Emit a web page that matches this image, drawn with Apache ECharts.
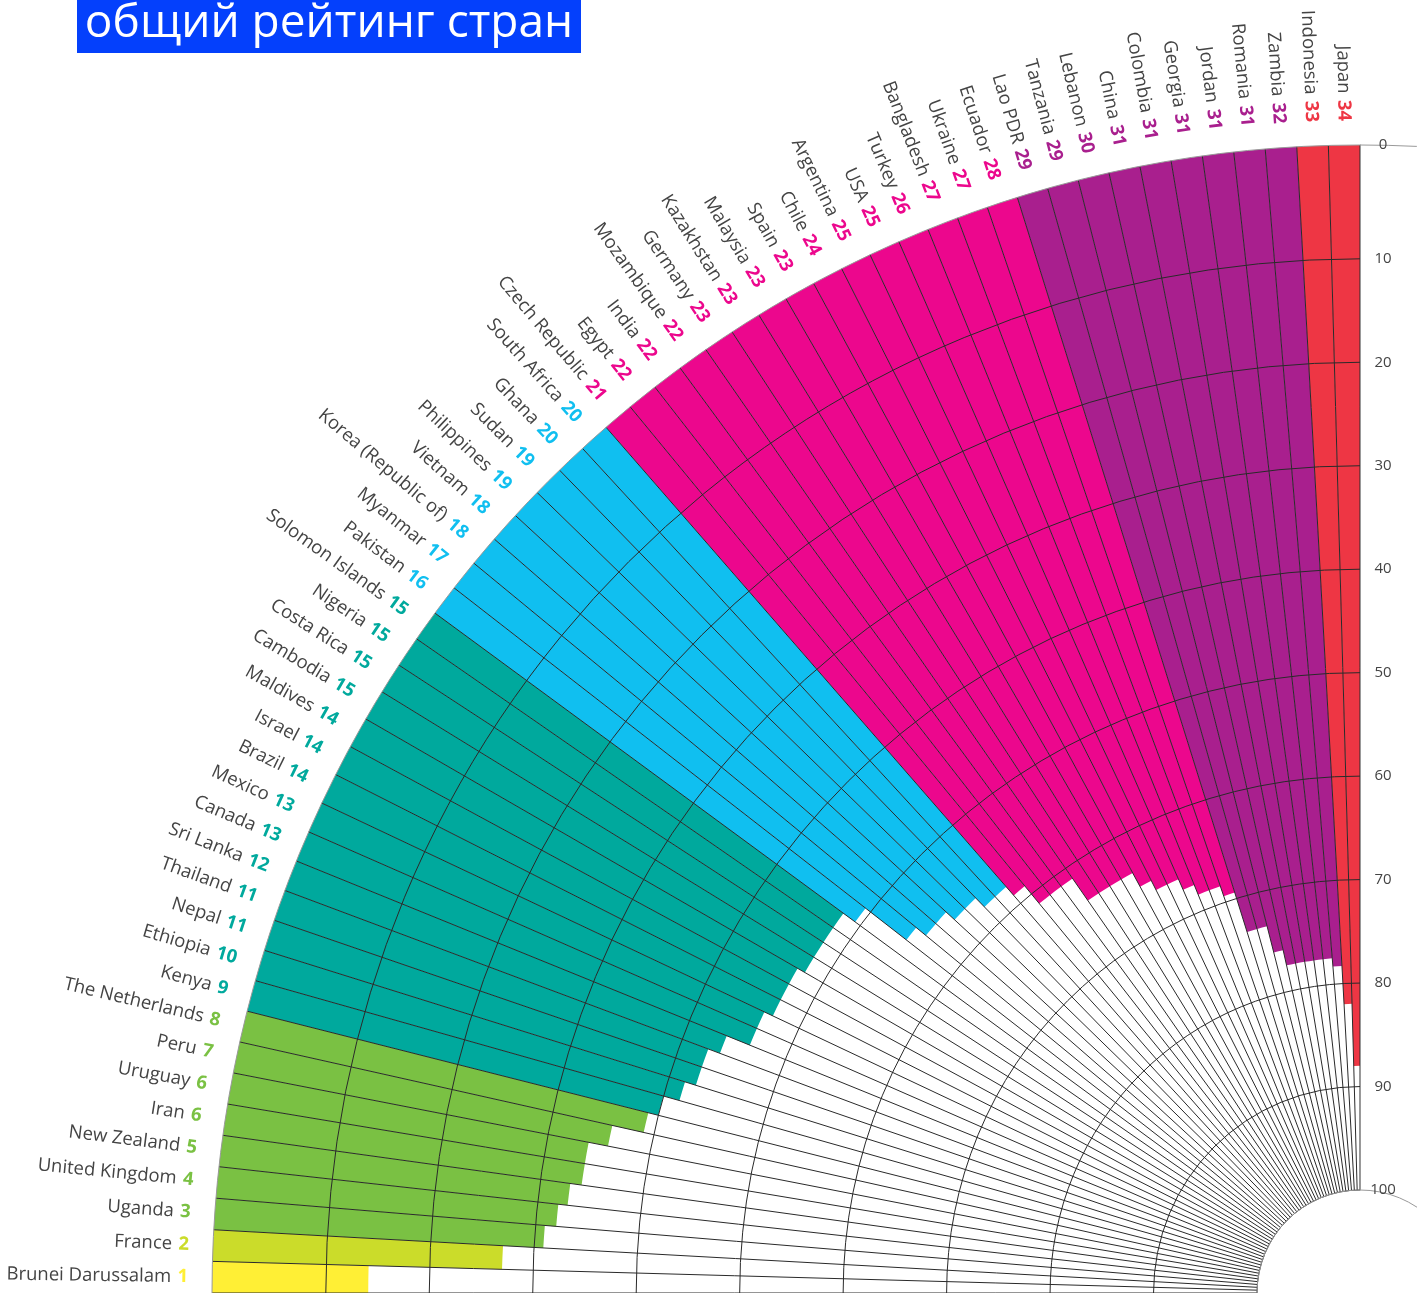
<!DOCTYPE html>
<html>
<head>
<meta charset="utf-8">
<script src="https://cdn.jsdelivr.net/npm/echarts@6/dist/echarts.min.js"></script>
<style>
html, body { margin: 0; padding: 0; background: #fff; }
#main { width: 1417px; height: 1293px; }
</style>
</head>
<body>
<div id="main"></div>
<script>
// страны по кругу: от Японии (сверху) до Брунея (слева)
var countries = ['Japan', 'Indonesia', 'Zambia', 'Romania', 'Jordan', 'Georgia', 'Colombia', 'China', 'Lebanon',
    'Tanzania', 'Lao PDR', 'Ecuador', 'Ukraine', 'Bangladesh', 'Turkey', 'USA', 'Argentina', 'Chile', 'Spain',
    'Malaysia', 'Kazakhstan', 'Germany', 'Mozambique', 'India', 'Egypt', 'Czech Republic', 'South Africa', 'Ghana',
    'Sudan', 'Philippines', 'Vietnam', 'Korea (Republic of)', 'Myanmar', 'Pakistan', 'Solomon Islands', 'Nigeria',
    'Costa Rica', 'Cambodia', 'Maldives', 'Israel', 'Brazil', 'Mexico', 'Canada', 'Sri Lanka', 'Thailand', 'Nepal',
    'Ethiopia', 'Kenya', 'The Netherlands', 'Peru', 'Uruguay', 'Iran', 'New Zealand', 'United Kingdom', 'Uganda',
    'France', 'Brunei Darussalam'];
var ranks = [34, 33, 32, 31, 31, 31, 31, 31, 30, 29, 29, 28, 27, 27, 26, 25, 25, 24, 23, 23, 23, 23, 22, 22, 22,
    21, 20, 20, 19, 19, 18, 18, 17, 16, 15, 15, 15, 15, 14, 14, 14, 13, 13, 12, 11, 11, 10, 9, 8, 7, 6, 6, 5, 4,
    3, 2, 1];
var scores = [88.0, 82.0, 78.3, 77.5, 77.5, 77.5, 77.5, 77.5, 76.0, 73.4, 73.4, 69.4, 68.4, 68.4, 67.4, 66.3,
    66.3, 65.3, 63.8, 63.8, 63.8, 63.8, 61.2, 61.2, 61.2, 59.0, 57.9, 57.9, 56.7, 56.7, 55.6, 55.6, 54.4, 49.4,
    48.0, 48.0, 48.0, 48.0, 47.2, 47.2, 47.2, 46.3, 46.3, 43.9, 42.7, 42.7, 41.6, 40.0, 39.0, 35.9, 34.0, 34.0,
    32.9, 32.0, 30.9, 27.0, 14.1];
// группы по месту: верхняя граница места -> цвет
var groupMaxRank = [1, 2, 8, 15, 20, 28, 32, 34];
var groupColors = ['#ffef35', '#cbdc2a', '#7ac143', '#00a99d', '#10bff0', '#ec078d', '#a91f8e', '#ee3644'];
var radiusMin = -1;
var radiusMax = 100;

function rankColor(r) {
    for (var g = 0; g < groupMaxRank.length; g++) {
        if (r <= groupMaxRank[g]) return groupColors[g];
    }
    return '#999';
}

var myChart = echarts.init(document.getElementById('main'));

var barData = scores.map(function (v, i) {
    return { value: v, itemStyle: { color: rankColor(ranks[i]) } };
});
var labelData = countries.map(function (c, i) {
    return [radiusMin, i];
});

var option = {
    animation: false,
    backgroundColor: '#fff',
    graphic: [
        { type: 'rect', left: 77, top: 0, shape: { width: 504, height: 53 }, style: { fill: '#0440fc' } },
        {
            type: 'text', x: 329, y: 24,
            style: {
                text: 'общий рейтинг стран', fill: '#fff', align: 'center', verticalAlign: 'middle',
                font: '46px "Open Sans"'
            }
        }
    ],
    polar: {
        center: [1360, 1293],
        radius: [103, 1148]
    },
    angleAxis: {
        type: 'category',
        data: countries,
        startAngle: 90,
        endAngle: 180,
        clockwise: false,
        boundaryGap: true,
        z: 10,
        axisLine: { show: true, lineStyle: { color: '#999', width: 1 } },
        axisTick: { show: false, interval: 0 },
        axisLabel: { show: false, interval: 0 },
        splitLine: { show: true, interval: 0, lineStyle: { color: '#2a2a2a', width: 1 } }
    },
    radiusAxis: {
        type: 'value',
        min: radiusMin,
        max: radiusMax,
        splitNumber: 10,
        startValue: radiusMin,
        inverse: true,
        z: 10,
        axisLine: { show: true, lineStyle: { color: '#999', width: 1 } },
        axisTick: { show: false },
        axisLabel: {
            color: '#444', fontSize: 15, fontFamily: 'Open Sans', margin: -23, align: 'center',
            formatter: function (v) { return v < 0 ? '0' : (v === 0 ? '' : String(v)); }
        },
        splitLine: {
            show: true,
            lineStyle: { color: ['rgba(0,0,0,0)', 'rgba(0,0,0,0)', '#2a2a2a', '#2a2a2a', '#2a2a2a', '#2a2a2a', '#2a2a2a', '#2a2a2a', '#2a2a2a', '#2a2a2a', '#2a2a2a', '#2a2a2a'], width: 1 }
        }
    },
    series: [
        {
            type: 'bar',
            coordinateSystem: 'polar',
            data: barData,
            barCategoryGap: '0%',
            z: 2
        },
        {
            type: 'custom',
            coordinateSystem: 'polar',
            silent: true,
            data: labelData,
            renderItem: function (params, api) {
                var i = params.dataIndex;
                var pOut = api.coord([api.value(0), i]);
                var pIn = api.coord([radiusMax, i]);
                var dx = pOut[0] - pIn[0], dy = pOut[1] - pIn[1];
                var len = Math.sqrt(dx * dx + dy * dy);
                dx /= len; dy /= len;
                var gap = 24;
                return {
                    type: 'text',
                    x: pOut[0] + dx * gap,
                    y: pOut[1] + dy * gap,
                    rotation: Math.atan2(dy, -dx),
                    style: {
                        text: '{n|' + countries[i] + '} {r|' + ranks[i] + '}',
                        align: 'right',
                        verticalAlign: 'middle',
                        rich: {
                            n: { fill: '#444', fontSize: 18.5, fontFamily: 'Open Sans' },
                            r: { fill: rankColor(ranks[i]), fontSize: 18.5, fontFamily: 'Open Sans', fontWeight: 'bold', padding: [0, 0, 0, 3] }
                        }
                    }
                };
            }
        }
    ]
};

myChart.setOption(option);
</script>
</body>
</html>
